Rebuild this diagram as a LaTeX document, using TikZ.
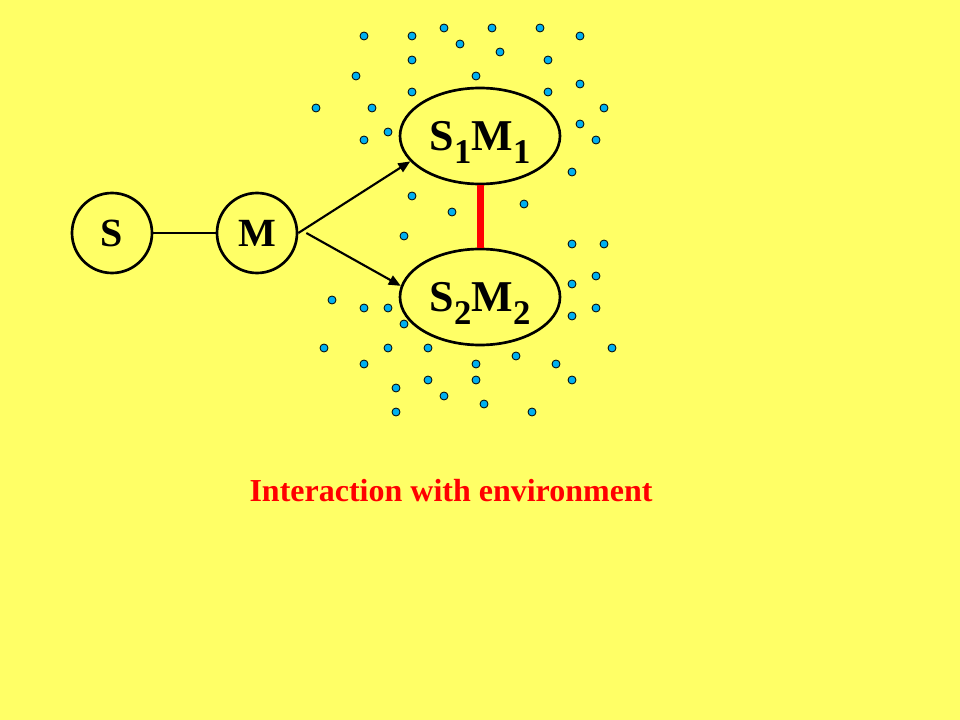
\documentclass[tikz,border=0pt]{standalone}
\usepackage{fontspec}
\setmainfont{Liberation Serif}
\usetikzlibrary{arrows.meta,shapes.geometric}
\definecolor{slideyellow}{RGB}{255,255,102}
\definecolor{dotblue}{RGB}{0,176,240}
\newcommand\lowsub[1]{\raisebox{-10pt}[0pt][0pt]{\fontsize{26}{26}\selectfont #1}}
\tikzset{
	ring/.style={draw, circle, line width=2pt, minimum size=60pt, inner sep=0pt, font=\fontsize{30}{32}\selectfont\bfseries},
	pair/.style={draw, ellipse, line width=2pt, minimum width=120pt, minimum height=72pt, inner sep=0pt, font=\fontsize{33}{36}\selectfont\bfseries},
	envdot/.style={draw, line width=0.6pt, fill=dotblue},
	link/.style={line width=1.6pt, -{Triangle[length=9pt, width=7.5pt]}}
}

\begin{document}
\begin{tikzpicture}[x=0.75pt, y=-0.75pt]
			%%%%% START %%%%%
			
			\fill[slideyellow] (0, 0) rectangle (960, 720);
			\useasboundingbox (0, 0) rectangle (960, 720);
			
			% environment
			\foreach \px/\py in {364/36, 412/36, 444/28, 492/28, 540/28, 580/36, 460/44, 500/52, 412/60, 548/60,
				356/76, 476/76, 412/92, 548/92, 580/84, 316/108, 372/108, 604/108, 388/132, 364/140,
				580/124, 596/140, 572/172, 412/196, 452/212, 524/204, 404/236, 572/244, 604/244, 596/276,
				572/284, 332/300, 364/308, 388/308, 404/324, 596/308, 572/316, 324/348, 388/348, 428/348,
				612/348, 516/356, 364/364, 476/364, 556/364, 428/380, 476/380, 572/380, 396/388, 444/396,
				484/404, 396/412, 532/412}
				\draw[envdot] (\px, \py) circle (4);
			
			\node[ring] (s) at (112, 233) {S};
			\node[ring] (m) at (257, 233) {M};
			\node[pair] (s1m1) at (480, 136) {S\lowsub{1}M\lowsub{1}};
			\node[pair] (s2m2) at (480, 297) {S\lowsub{2}M\lowsub{2}};
			
			\draw[line width=1.5pt] (s) -- (m);
			\draw[link] (m.east) -- (s1m1.200);
			\draw[link] ([xshift=6pt]m.east) -- (s2m2.172);
			\draw[line width=5.25pt, red] (s1m1.south) -- (s2m2.north);
			
			\node[text=red, font=\fontsize{24}{28}\selectfont\bfseries] (caption) at (451, 491) {Interaction with environment};
			
			%%%%% END %%%%%
\end{tikzpicture}
\end{document}
